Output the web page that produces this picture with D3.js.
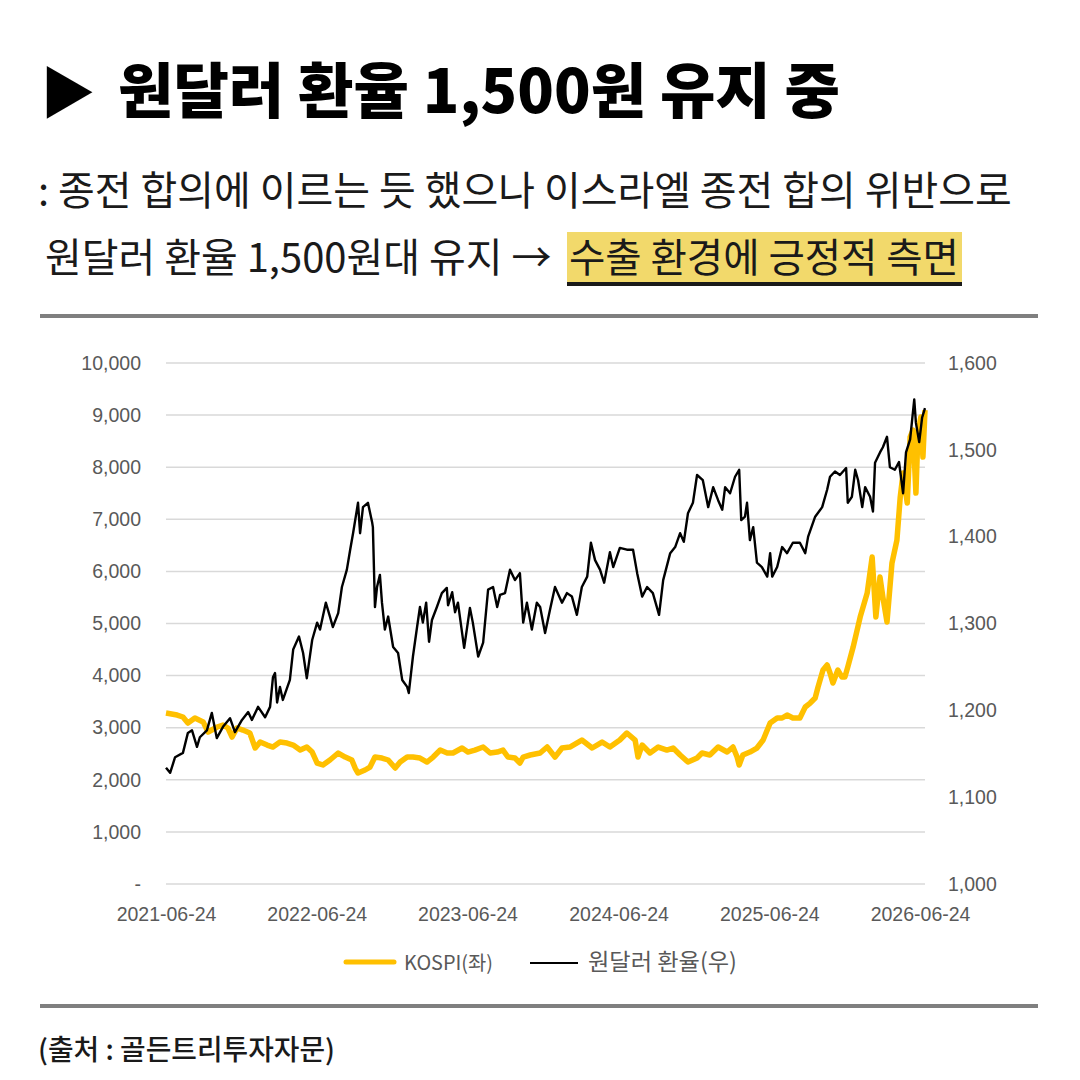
<!DOCTYPE html>
<html>
<head>
<meta charset="utf-8">
<script src="https://cdn.jsdelivr.net/npm/d3@7"></script>
<style>
  html, body { margin: 0; padding: 0; background: #fff; }
  svg { display: block; }
  .axis text { font-family: "Liberation Sans", Arial, sans-serif; fill: #595959; }
  .axis path, .axis line { display: none; }
</style>
</head>
<body>
<div id="chart"></div>
<script>
// ---- data ----
var title = '원달러 환율 1,500원 유지 중';
var subLine1 = ': 종전 합의에 이르는 듯 했으나 이스라엘 종전 합의 위반으로';
var subLine2 = '원달러 환율 1,500원대 유지 → ';
var subHighlight = '수출 환경에 긍정적 측면';
var source = '(출처 : 골든트리투자자문)';
var legendLabels = ['KOSPI(좌)', '원달러 환율(우)'];

var xTickDates = ['2021-06-24', '2022-06-24', '2023-06-24', '2024-06-24', '2025-06-24', '2026-06-24'];
var xDomain = ['2021-06-24', '2026-07-06'];
var leftTicks = [0, 1000, 2000, 3000, 4000, 5000, 6000, 7000, 8000, 9000, 10000];
var rightTicks = [1000, 1100, 1200, 1300, 1400, 1500, 1600];

var kospiDates = ['2021-06-24','2021-07-21','2021-08-04','2021-08-16','2021-09-02','2021-09-22','2021-10-04','2021-10-26','2021-11-09','2021-11-21','2021-12-01','2021-12-13','2021-12-27',
  '2022-01-13','2022-01-26','2022-02-07','2022-02-24','2022-03-10','2022-03-27','2022-04-13','2022-04-28','2022-05-15','2022-05-31','2022-06-13','2022-06-25','2022-07-09','2022-07-26','2022-08-15','2022-09-01','2022-09-17','2022-09-25','2022-10-02','2022-10-19','2022-10-31','2022-11-12','2022-11-29','2022-12-14','2022-12-31',
  '2023-01-12','2023-01-29','2023-02-12','2023-03-01','2023-03-18','2023-04-02','2023-04-19','2023-05-06','2023-05-20','2023-06-11','2023-06-25','2023-07-12','2023-08-01','2023-08-18','2023-09-04','2023-09-18','2023-09-30','2023-10-17','2023-10-29','2023-11-06','2023-11-23','2023-12-17',
  '2024-01-03','2024-01-22','2024-02-08','2024-02-27','2024-03-27','2024-04-21','2024-05-15','2024-06-03','2024-06-27','2024-07-14','2024-08-03','2024-08-10','2024-08-20','2024-09-08','2024-09-28','2024-10-19','2024-11-03','2024-11-20','2024-12-09','2024-12-31',
  '2025-01-12','2025-01-31','2025-02-20','2025-03-14','2025-03-28','2025-04-07','2025-04-12','2025-04-21','2025-05-08','2025-05-25','2025-06-09','2025-06-26','2025-07-13','2025-07-25','2025-08-06','2025-08-20','2025-09-06','2025-09-19','2025-10-01','2025-10-13','2025-10-20','2025-11-01','2025-11-11','2025-11-18','2025-11-25','2025-12-07','2025-12-17','2025-12-24','2025-12-31',
  '2026-01-13','2026-01-30','2026-02-16','2026-02-28','2026-03-09','2026-03-19','2026-03-26','2026-04-05','2026-04-17','2026-04-29','2026-05-07','2026-05-14','2026-05-24','2026-05-31','2026-06-07','2026-06-14','2026-06-19','2026-06-26','2026-07-01','2026-07-06'];
var kospiValues = [3282,3243,3205,3090,3186,3109,2917,3013,3051,2994,2821,2994,2955,
  2898,2610,2725,2667,2629,2725,2706,2667,2571,2629,2533,2322,2284,2380,2514,2437,2380,2226,2130,2188,2245,2437,2418,2380,2226,
  2341,2437,2437,2418,2341,2437,2571,2514,2514,2610,2533,2571,2629,2514,2533,2571,2437,2418,2322,2437,2476,2514,
  2629,2437,2610,2629,2763,2610,2725,2629,2763,2898,2763,2437,2667,2514,2629,2571,2610,2476,2341,2418,
  2514,2476,2629,2533,2629,2437,2284,2476,2533,2610,2763,3090,3186,3186,3243,3186,3186,3397,3473,3569,3780,4107,4203,4049,3857,4107,3972,3972,4164,
  4548,5124,5584,6275,5124,5891,5508,5028,6160,6601,7427,7887,7311,8578,8712,7503,8655,8962,8194,9096];

var fxDates = ['2021-06-24','2021-07-04','2021-07-16','2021-08-04','2021-08-16','2021-08-26','2021-09-07','2021-09-14','2021-10-01','2021-10-13','2021-10-25','2021-11-09','2021-11-26','2021-12-08','2021-12-25',
  '2022-01-09','2022-01-18','2022-02-02','2022-02-19','2022-03-03','2022-03-10','2022-03-15','2022-03-20','2022-03-27','2022-04-03','2022-04-20','2022-04-28','2022-05-12','2022-05-22','2022-05-31','2022-06-13','2022-06-25','2022-07-02','2022-07-16','2022-07-26','2022-08-02','2022-08-15','2022-08-24','2022-09-05','2022-09-13','2022-09-20','2022-10-02','2022-10-07','2022-10-14','2022-10-26','2022-11-05','2022-11-07','2022-11-12','2022-11-17','2022-11-24','2022-11-29','2022-12-06','2022-12-14','2022-12-26',
  '2023-01-07','2023-01-17','2023-01-29','2023-02-02','2023-02-12','2023-02-22','2023-03-01','2023-03-08','2023-03-16','2023-03-23','2023-03-30','2023-04-11','2023-04-23','2023-05-05','2023-05-08','2023-05-18','2023-05-25','2023-06-01','2023-06-16','2023-06-30','2023-07-07','2023-07-20','2023-08-01','2023-08-13','2023-08-25','2023-09-04','2023-09-11','2023-09-23','2023-10-05','2023-10-17','2023-10-29','2023-11-06','2023-11-15','2023-11-27','2023-12-09','2023-12-17','2023-12-29',
  '2024-01-10','2024-01-22','2024-02-08','2024-02-20','2024-03-03','2024-03-15','2024-03-27','2024-04-09','2024-04-18','2024-04-28','2024-05-10','2024-05-20','2024-06-03','2024-06-11','2024-06-27','2024-07-14','2024-07-29','2024-08-08','2024-08-20','2024-09-01','2024-09-15','2024-09-30','2024-10-10','2024-10-27','2024-11-08','2024-11-20','2024-11-29','2024-12-09','2024-12-21','2024-12-31',
  '2025-01-14','2025-01-27','2025-02-08','2025-02-20','2025-03-02','2025-03-09','2025-03-21','2025-04-02','2025-04-12','2025-04-17','2025-04-26','2025-05-01','2025-05-08','2025-05-16','2025-05-25','2025-06-06','2025-06-19','2025-06-26','2025-07-01','2025-07-13','2025-07-25','2025-08-06','2025-08-20','2025-09-06','2025-09-19','2025-09-26','2025-10-13','2025-10-30','2025-11-11','2025-11-18','2025-11-30','2025-12-12','2025-12-27','2025-12-31',
  '2026-01-10','2026-01-18','2026-01-25','2026-02-04','2026-02-11','2026-02-23','2026-03-02','2026-03-07','2026-03-19','2026-03-26','2026-04-05','2026-04-12','2026-04-24','2026-05-04','2026-05-14','2026-05-21','2026-05-31','2026-06-10','2026-06-14','2026-06-22','2026-06-29','2026-07-06'];
var fxValues = [1134,1128,1146,1151,1174,1177,1158,1169,1177,1197,1168,1181,1191,1175,1189,
  1198,1189,1204,1192,1204,1238,1243,1209,1227,1212,1235,1270,1285,1266,1237,1281,1301,1293,1324,1308,1296,1312,1342,1362,1385,1404,1439,1404,1434,1439,1417,1411,1319,1342,1356,1324,1293,1308,1273,
  1266,1235,1227,1220,1262,1296,1319,1301,1324,1279,1304,1319,1335,1341,1321,1336,1313,1324,1272,1318,1301,1262,1278,1339,1342,1319,1333,1335,1362,1350,1358,1301,1324,1293,1324,1319,1289,
  1316,1342,1324,1335,1331,1310,1342,1354,1393,1373,1362,1347,1382,1365,1387,1385,1385,1358,1331,1342,1335,1310,1350,1381,1388,1404,1394,1427,1439,1471,
  1465,1434,1457,1442,1431,1457,1450,1469,1477,1419,1423,1439,1396,1411,1370,1365,1354,1381,1354,1365,1388,1381,1393,1393,1381,1400,1423,1434,1454,1469,1475,1471,1479,1439,
  1446,1477,1465,1434,1457,1446,1429,1485,1497,1503,1515,1480,1477,1486,1450,1497,1512,1558,1531,1509,1537,1548];

// ---- page ----
var W = 1080, H = 1080;
var plot = { left: 166, right: 925, top: 363, bottom: 884 };
var parseDate = d3.timeParse('%Y-%m-%d');
var fmt = d3.format(',');

var svg = d3.select('#chart').append('svg').attr('width', W).attr('height', H);
svg.append('rect').attr('width', W).attr('height', H).attr('fill', '#fff');

// shrink/grow font so the text spans the target width
function fitWidth(sel, target) {
  var len = sel.node().getComputedTextLength();
  var size = parseFloat(sel.attr('font-size'));
  sel.attr('font-size', (size * target / len).toFixed(2));
}

var kr = '"Noto Sans CJK KR", "Noto Sans", sans-serif';

// title
svg.append('text').attr('x', 40).attr('y', 113)
  .attr('font-family', kr).attr('font-size', 56).attr('font-weight', 900).attr('fill', '#000')
  .text('▶');
var titleText = svg.append('text').attr('x', 118).attr('y', 113)
  .attr('font-family', kr).attr('font-size', 58).attr('font-weight', 900).attr('fill', '#000')
  .text(title);
fitWidth(titleText, 722);

// subtitle
var s1 = svg.append('text').attr('x', 38).attr('y', 205)
  .attr('font-family', kr).attr('font-size', 37).attr('font-weight', 400).attr('fill', '#1a1a1a')
  .text(subLine1);
fitWidth(s1, 974);
var subSize = s1.attr('font-size');

svg.append('rect').attr('x', 567).attr('y', 232).attr('width', 395).attr('height', 52).attr('fill', '#f2d96b');
svg.append('rect').attr('x', 567).attr('y', 282).attr('width', 395).attr('height', 4).attr('fill', '#1a1a1a');
var s2 = svg.append('text').attr('x', 45).attr('y', 272)
  .attr('font-family', kr).attr('font-size', subSize).attr('font-weight', 400).attr('fill', '#1a1a1a')
  .text(subLine2);
var s3 = svg.append('text').attr('x', 569).attr('y', 272)
  .attr('font-family', kr).attr('font-size', subSize).attr('font-weight', 400).attr('fill', '#1a1a1a')
  .text(subHighlight);
fitWidth(s3, 390);

// dividers
svg.append('rect').attr('x', 40).attr('y', 314).attr('width', 998).attr('height', 4).attr('fill', '#7f7f7f');
svg.append('rect').attr('x', 40).attr('y', 1004).attr('width', 998).attr('height', 4).attr('fill', '#7f7f7f');

// source
var src = svg.append('text').attr('x', 38).attr('y', 1060)
  .attr('font-family', kr).attr('font-size', 26).attr('font-weight', 500).attr('fill', '#1a1a1a')
  .text(source);
fitWidth(src, 297);

// ---- chart ----
var x = d3.scaleTime().domain(xDomain.map(parseDate)).range([plot.left, plot.right]);
var yL = d3.scaleLinear().domain([0, 10000]).range([plot.bottom, plot.top]);
var yR = d3.scaleLinear().domain([1000, 1600]).range([plot.bottom, plot.top]);

// gridlines
svg.append('g').selectAll('line').data(leftTicks).join('line')
  .attr('x1', plot.left).attr('x2', plot.right)
  .attr('y1', function(d) { return yL(d); }).attr('y2', function(d) { return yL(d); })
  .attr('stroke', '#d9d9d9').attr('stroke-width', 1.5);

var yAxisL = d3.axisLeft(yL).tickValues(leftTicks).tickSize(0).tickPadding(25)
  .tickFormat(function(d) { return d === 0 ? '-' : fmt(d); });
svg.append('g').attr('class', 'axis').attr('transform', 'translate(' + plot.left + ',0)')
  .call(yAxisL).selectAll('text').attr('font-size', 19.5);

var yAxisR = d3.axisRight(yR).tickValues(rightTicks).tickSize(0).tickPadding(23).tickFormat(fmt);
svg.append('g').attr('class', 'axis').attr('transform', 'translate(' + plot.right + ',0)')
  .call(yAxisR).selectAll('text').attr('font-size', 19.5);

var xAxis = d3.axisBottom(x).tickValues(xTickDates.map(parseDate)).tickSize(0).tickPadding(23)
  .tickFormat(d3.timeFormat('%Y-%m-%d'));
svg.append('g').attr('class', 'axis').attr('transform', 'translate(0,' + plot.bottom + ')')
  .call(xAxis).selectAll('text').attr('font-size', 19.5);

// series
var kospi = kospiDates.map(function(d, i) { return { date: parseDate(d), value: kospiValues[i] }; });
var fx = fxDates.map(function(d, i) { return { date: parseDate(d), value: fxValues[i] }; });

var kospiLine = d3.line().x(function(d) { return x(d.date); }).y(function(d) { return yL(d.value); });
var fxLine = d3.line().x(function(d) { return x(d.date); }).y(function(d) { return yR(d.value); });

svg.append('path').datum(kospi).attr('d', kospiLine)
  .attr('fill', 'none').attr('stroke', '#ffc000').attr('stroke-width', 5.5).attr('stroke-linejoin', 'round');
svg.append('path').datum(fx).attr('d', fxLine)
  .attr('fill', 'none').attr('stroke', '#000').attr('stroke-width', 2.4).attr('stroke-linejoin', 'round');

// legend
var legend = svg.append('g').attr('font-family', kr).attr('font-size', 20).attr('fill', '#595959');
legend.append('line').attr('x1', 346).attr('x2', 394).attr('y1', 962).attr('y2', 962)
  .attr('stroke', '#ffc000').attr('stroke-width', 5).attr('stroke-linecap', 'round');
fitWidth(legend.append('text').attr('x', 404).attr('y', 970).attr('font-size', 20).text(legendLabels[0]), 89);
legend.append('line').attr('x1', 530).attr('x2', 578).attr('y1', 963).attr('y2', 963)
  .attr('stroke', '#000').attr('stroke-width', 2);
fitWidth(legend.append('text').attr('x', 588).attr('y', 970).attr('font-size', 20).text(legendLabels[1]), 149);
</script>
</body>
</html>
